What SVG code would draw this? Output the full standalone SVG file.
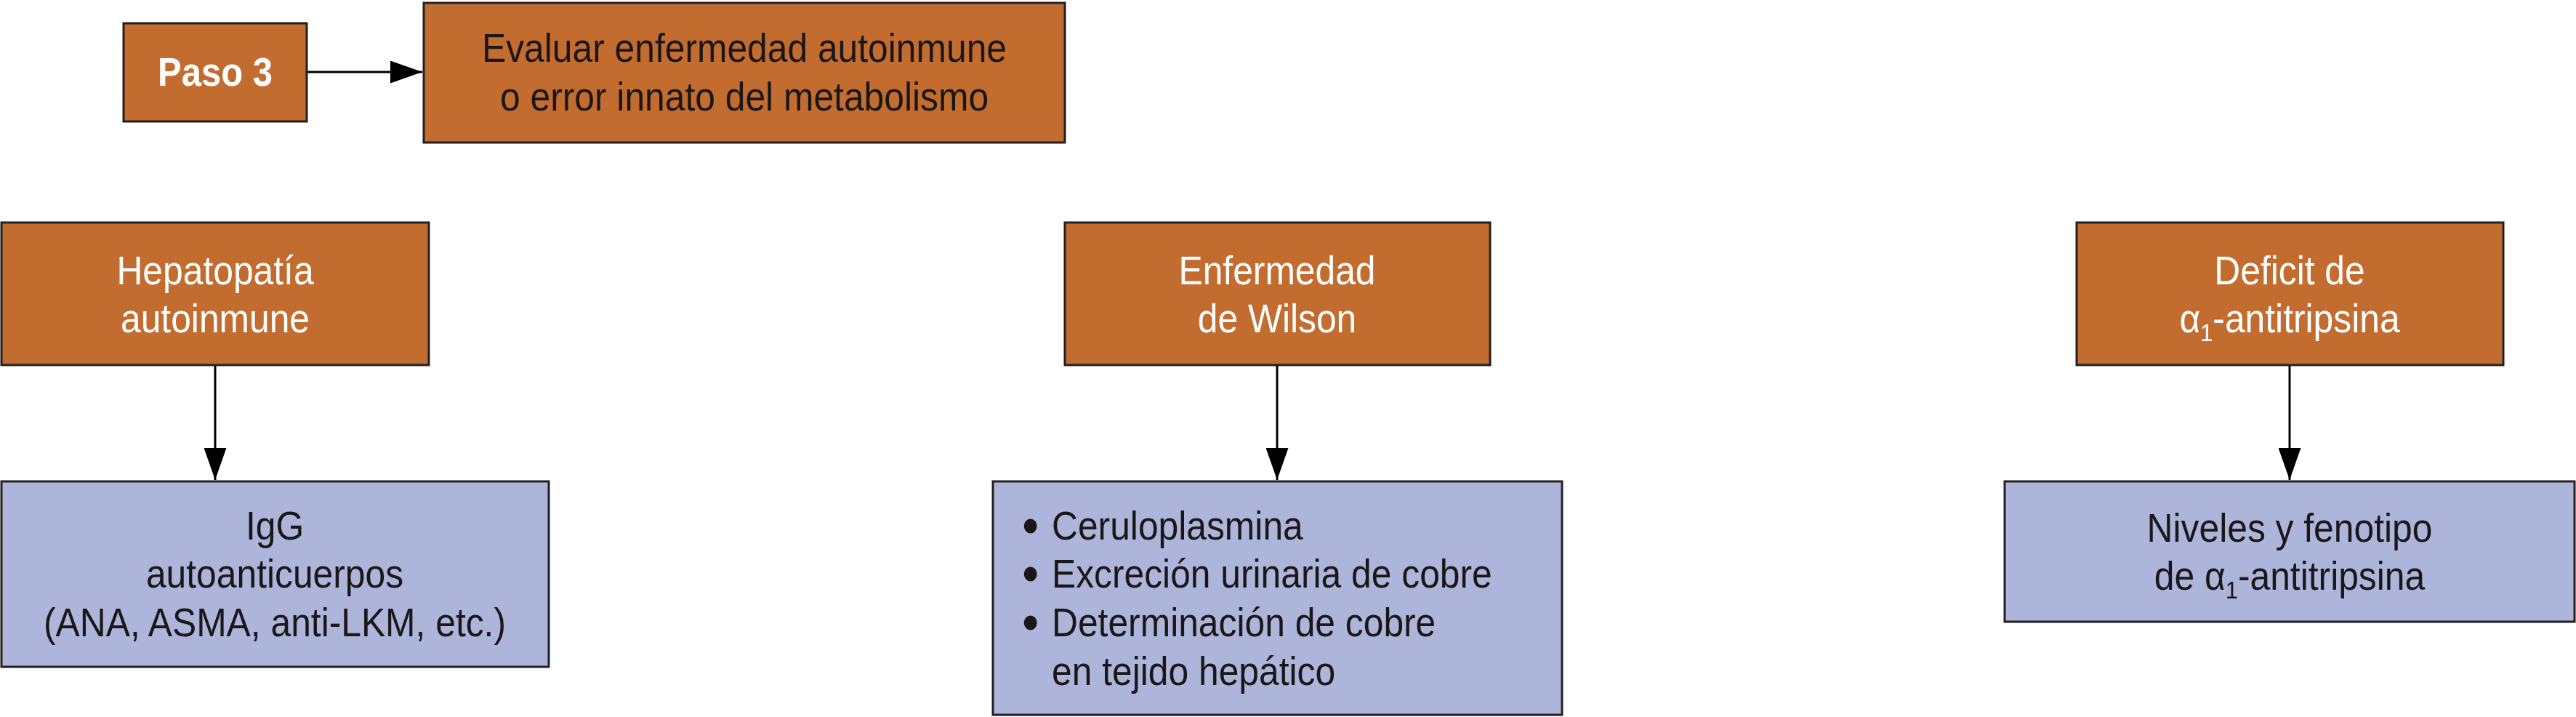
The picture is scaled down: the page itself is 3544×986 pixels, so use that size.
<svg xmlns="http://www.w3.org/2000/svg" width="3544" height="986" viewBox="0 0 3544 986">
  <defs>
    <style>
      .org { fill: #C36C30; stroke: #231F20; stroke-width: 3; }
      .blu { fill: #ADB5DA; stroke: #231F20; stroke-width: 3; }
      .t { font-family: "Liberation Sans", Arial, sans-serif; font-size: 55px; }
      .w { fill: #FFFFFF; }
      .k { fill: #1A1718; }
      .c { text-anchor: middle; }
      .b { stroke: #1A1718; stroke-width: 5; stroke-linejoin: round; }
      .conn { stroke: #000000; stroke-width: 3; fill: none; }
    </style>
    <marker id="ah" markerUnits="userSpaceOnUse" markerWidth="44" markerHeight="31" refX="44" refY="15.5" orient="auto">
      <path d="M0,0 L44,15.5 L0,31 Z" fill="#000000"/>
    </marker>
  </defs>
  <rect width="3544" height="986" fill="#FFFFFF"/>

  <g id="connectors">
    <line class="conn" x1="423" y1="99" x2="581" y2="99" marker-end="url(#ah)"/>
    <line class="conn" x1="296" y1="503" x2="296" y2="660" marker-end="url(#ah)"/>
    <line class="conn" x1="1757" y1="503" x2="1757" y2="660" marker-end="url(#ah)"/>
    <line class="conn" x1="3150" y1="503" x2="3150" y2="660" marker-end="url(#ah)"/>
  </g>

  <g id="paso3">
    <rect class="org" x="170" y="32" width="252" height="135"/>
    <text class="t w c" font-weight="bold" transform="translate(296 118) scale(0.89 1)" x="0" y="0">Paso 3</text>
  </g>

  <g id="evaluar">
    <rect class="org" x="583" y="4" width="882" height="192"/>
    <text class="t k c" transform="translate(1024 85) scale(0.905 1)" x="0" y="0">Evaluar enfermedad autoinmune</text>
    <text class="t k c" transform="translate(1024 152) scale(0.905 1)" x="0" y="0">o error innato del metabolismo</text>
  </g>

  <g id="hepatopatia">
    <rect class="org" x="2" y="306" width="588" height="196"/>
    <text class="t w c" transform="translate(296 391) scale(0.905 1)" x="0" y="0">Hepatopatía</text>
    <text class="t w c" transform="translate(296 457) scale(0.905 1)" x="0" y="0">autoinmune</text>
  </g>

  <g id="wilson">
    <rect class="org" x="1465" y="306" width="585" height="196"/>
    <text class="t w c" transform="translate(1757 391) scale(0.905 1)" x="0" y="0">Enfermedad</text>
    <text class="t w c" transform="translate(1757 457) scale(0.905 1)" x="0" y="0">de Wilson</text>
  </g>

  <g id="deficit">
    <rect class="org" x="2857" y="306" width="587" height="196"/>
    <text class="t w c" transform="translate(3150 391) scale(0.905 1)" x="0" y="0">Deficit de</text>
    <text class="t w c" transform="translate(3150 457) scale(0.905 1)" x="0" y="0">α<tspan font-size="34" dy="12">1</tspan><tspan dy="-12">-antitripsina</tspan></text>
  </g>

  <g id="igg">
    <rect class="blu" x="2" y="662" width="753" height="255"/>
    <text class="t k c" transform="translate(378 742) scale(0.905 1)" x="0" y="0">IgG</text>
    <text class="t k c" transform="translate(378 808) scale(0.905 1)" x="0" y="0">autoanticuerpos</text>
    <text class="t k c" transform="translate(378 875) scale(0.905 1)" x="0" y="0">(ANA, ASMA, anti-LKM, etc.)</text>
  </g>

  <g id="wilson-pruebas">
    <rect class="blu" x="1366" y="662" width="783" height="321"/>
    <text class="t k" transform="translate(1409 742) scale(0.905 1)" x="0" y="0"><tspan class="b">•</tspan><tspan x="42">Ceruloplasmina</tspan></text>
    <text class="t k" transform="translate(1409 808) scale(0.905 1)" x="0" y="0"><tspan class="b">•</tspan><tspan x="42">Excreción urinaria de cobre</tspan></text>
    <text class="t k" transform="translate(1409 875) scale(0.905 1)" x="0" y="0"><tspan class="b">•</tspan><tspan x="42">Determinación de cobre</tspan></text>
    <text class="t k" transform="translate(1409 942) scale(0.905 1)" x="42" y="0">en tejido hepático</text>
  </g>

  <g id="niveles">
    <rect class="blu" x="2758" y="662" width="784" height="193"/>
    <text class="t k c" transform="translate(3150 745) scale(0.905 1)" x="0" y="0">Niveles y fenotipo</text>
    <text class="t k c" transform="translate(3150 811) scale(0.905 1)" x="0" y="0">de α<tspan font-size="34" dy="12">1</tspan><tspan dy="-12">-antitripsina</tspan></text>
  </g>
</svg>
